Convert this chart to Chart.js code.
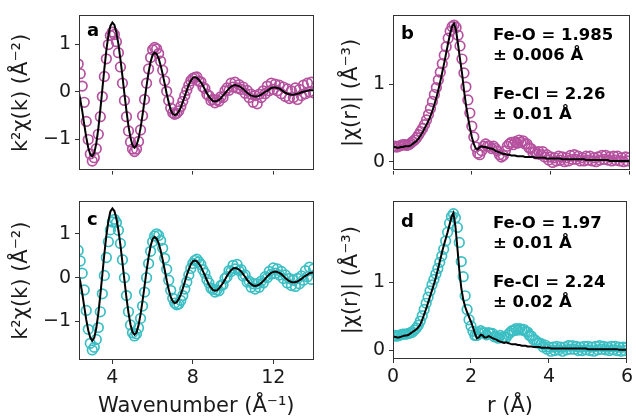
<!DOCTYPE html>
<html><head><meta charset="utf-8">
<script src="https://cdn.jsdelivr.net/npm/chart.js@4.4.1/dist/chart.umd.min.js"></script>
<style>
html,body{margin:0;padding:0;background:#fff;width:636px;height:417px;overflow:hidden}
canvas{position:absolute}
</style></head><body>
<canvas id="ca" width="320" height="186" style="left:0;top:0"></canvas>
<canvas id="cb" width="316" height="186" style="left:320px;top:0"></canvas>
<canvas id="cc" width="320" height="231" style="left:0;top:186px"></canvas>
<canvas id="cd" width="316" height="231" style="left:320px;top:186px"></canvas>
<script>
// ---------- data ----------
const kGrid = [2.3,2.4,2.5,2.6,2.7,2.8,2.9,3.0,3.1,3.2,3.3,3.4,3.5,3.6,3.7,3.8,3.9,4.0,4.1,4.2,4.3,4.4,4.5,4.6,4.7,4.8,4.9,5.0,5.1,5.2,5.3,5.4,5.5,5.6,5.7,5.8,5.9,6.0,6.1,6.2,6.3,6.4,6.5,6.6,6.7,6.8,6.9,7.0,7.1,7.2,7.3,7.4,7.5,7.6,7.7,7.8,7.9,8.0,8.1,8.2,8.3,8.4,8.5,8.6,8.7,8.8,8.9,9.0,9.1,9.2,9.3,9.4,9.5,9.6,9.7,9.8,9.9,10.0,10.1,10.2,10.3,10.4,10.5,10.6,10.7,10.8,10.9,11.0,11.1,11.2,11.3,11.4,11.5,11.6,11.7,11.8,11.9,12.0,12.1,12.2,12.3,12.4,12.5,12.6,12.7,12.8,12.9,13.0,13.1,13.2,13.3,13.4,13.5,13.6,13.7,13.8,13.9,14.0];

const aData = [0.58,0.38,0.12,-0.22,-0.62,-1.00,-1.30,-1.45,-1.38,-1.19,-0.89,-0.52,-0.10,0.32,0.69,0.99,1.18,1.25,1.20,1.05,0.82,0.52,0.18,-0.18,-0.52,-0.82,-1.05,-1.20,-1.25,-1.20,-1.04,-0.80,-0.50,-0.16,0.18,0.48,0.72,0.88,0.93,0.90,0.80,0.64,0.45,0.23,0.01,-0.18,-0.34,-0.44,-0.47,-0.45,-0.40,-0.31,-0.20,-0.08,0.03,0.14,0.23,0.28,0.30,
0.31,0.22,0.21,0.10,0.07,-0.05,-0.08,-0.18,-0.16,-0.23,-0.17,-0.20,-0.10,-0.12,0.02,0.08,0.03,0.18,0.10,0.20,0.08,0.15,0.05,0.10,-0.03,0.03,-0.12,-0.05,-0.22,-0.08,-0.25,-0.05,-0.12,0.02,-0.04,0.12,0.02,0.18,0.05,0.16,0.02,0.14,-0.04,0.10,-0.10,0.06,-0.14,0.02,-0.12,0.08,-0.16,0.05,-0.08,0.14,-0.04,0.18,0.00,0.20,-0.02];

const aFit = [0.05,-0.15,-0.40,-0.68,-0.95,-1.17,-1.31,-1.35,-1.28,-1.08,-0.77,-0.38,0.05,0.48,0.87,1.18,1.38,1.45,1.40,1.24,1.00,0.68,0.33,-0.05,-0.40,-0.72,-0.96,-1.12,-1.17,-1.12,-0.98,-0.76,-0.48,-0.18,0.13,0.41,0.63,0.77,0.82,0.79,0.70,0.55,0.37,0.17,-0.04,-0.22,-0.38,-0.46,-0.49,-0.47,-0.41,-0.33,-0.21,-0.09,0.03,0.15,0.23,0.29,0.31,
0.29,0.25,0.20,0.13,0.05,-0.03,-0.10,-0.15,-0.19,-0.20,-0.19,-0.17,-0.13,-0.08,-0.03,0.02,0.07,0.11,0.13,0.14,0.13,0.12,0.09,0.06,0.02,-0.02,-0.05,-0.08,-0.09,-0.10,-0.10,-0.08,-0.06,-0.03,0.00,0.02,0.05,0.08,0.09,0.09,0.08,0.07,0.04,0.01,-0.02,-0.04,-0.05,-0.06,-0.06,-0.05,-0.04,-0.03,-0.01,0.00,0.01,0.02,0.03,0.03,0.03];

const cData = [0.62,0.38,0.10,-0.28,-0.75,-1.18,-1.50,-1.65,-1.59,-1.41,-1.14,-0.78,-0.37,0.05,0.46,0.82,1.09,1.27,1.33,1.26,1.08,0.78,0.41,0.00,-0.41,-0.78,-1.08,-1.26,-1.33,-1.28,-1.15,-0.93,-0.65,-0.33,0.00,0.32,0.60,0.82,0.95,1.00,0.96,0.85,0.67,0.44,0.19,-0.06,-0.29,-0.47,-0.58,-0.62,-0.60,-0.52,-0.41,-0.26,-0.10,0.06,0.21,0.32,0.39,0.42,
0.36,0.30,0.18,0.10,-0.04,-0.12,-0.24,-0.27,-0.33,-0.28,-0.30,-0.18,-0.16,-0.02,0.02,0.16,0.14,0.28,0.20,0.30,0.16,0.18,0.04,0.06,-0.10,-0.08,-0.22,-0.14,-0.26,-0.14,-0.22,-0.08,-0.12,0.02,0.00,0.14,0.08,0.22,0.10,0.20,0.06,0.14,-0.02,0.06,-0.12,-0.02,-0.18,-0.06,-0.20,-0.02,-0.14,0.04,-0.06,0.16,0.02,0.24,-0.04,0.20];

const cFit = [0.10,-0.08,-0.35,-0.66,-0.96,-1.20,-1.37,-1.44,-1.37,-1.15,-0.82,-0.40,0.07,0.54,0.96,1.29,1.51,1.58,1.52,1.35,1.08,0.74,0.34,-0.06,-0.46,-0.80,-1.07,-1.24,-1.30,-1.25,-1.09,-0.84,-0.53,-0.19,0.16,0.47,0.72,0.88,0.93,0.89,0.79,0.62,0.41,0.18,-0.06,-0.27,-0.44,-0.54,-0.58,-0.56,-0.49,-0.38,-0.25,-0.10,0.06,0.19,0.30,0.37,0.39,
0.37,0.32,0.25,0.15,0.05,-0.06,-0.16,-0.23,-0.28,-0.30,-0.29,-0.25,-0.19,-0.12,-0.04,0.04,0.11,0.17,0.21,0.22,0.21,0.18,0.14,0.08,0.02,-0.05,-0.11,-0.15,-0.18,-0.19,-0.18,-0.16,-0.12,-0.08,-0.03,0.03,0.07,0.11,0.13,0.14,0.13,0.11,0.08,0.04,-0.01,-0.05,-0.08,-0.10,-0.11,-0.10,-0.09,-0.06,-0.03,0.01,0.04,0.07,0.10,0.11,0.12];

const rGrid = [0.00,0.05,0.10,0.15,0.20,0.25,0.30,0.35,0.40,0.45,0.50,0.55,0.60,0.65,0.70,0.75,0.80,0.85,0.90,0.95,1.00,1.05,1.10,1.15,1.20,1.25,1.30,1.35,1.40,1.45,1.50,1.55,1.60,1.65,1.70,1.75,1.80,1.85,1.90,1.95,2.00,2.05,2.10,2.15,2.20,2.25,2.30,2.35,2.40,2.45,2.50,2.55,2.60,2.65,2.70,2.75,2.80,2.85,2.90,2.95,3.00,3.05,3.10,3.15,3.20,3.25,3.30,3.35,3.40,3.45,3.50,3.55,3.60,3.65,3.70,3.75,3.80,3.85,3.90,3.95,4.00,4.05,4.10,4.15,4.20,4.25,4.30,4.35,4.40,4.45,4.50,4.55,4.60,4.65,4.70,4.75,4.80,4.85,4.90,4.95,5.00,5.05,5.10,5.15,5.20,5.25,5.30,5.35,5.40,5.45,5.50,5.55,5.60,5.65,5.70,5.75,5.80,5.85,5.90,5.95,6.00];

const bData = [0.19,0.20,0.19,0.20,0.21,0.22,0.22,0.21,0.22,0.24,
0.26,0.28,0.31,0.35,0.39,0.43,0.48,0.54,0.61,0.69,
0.78,0.87,0.96,1.06,1.16,1.27,1.38,1.49,1.60,1.69,
1.75,1.77,1.74,1.64,1.50,1.33,1.15,0.97,0.80,0.63,
0.46,0.32,0.19,0.11,0.09,0.14,0.20,0.23,0.20,0.20,
0.17,0.20,0.17,0.14,0.09,0.06,0.08,0.14,0.20,0.23,
0.25,0.22,0.26,0.24,0.28,0.25,0.27,0.23,0.23,0.18,
0.17,0.12,0.13,0.10,0.13,0.09,0.13,0.06,0.09,0.02,
0.06,-0.01,0.05,0.01,0.07,0.02,0.06,0.00,0.05,0.01,
0.08,0.03,0.09,0.03,0.07,0.01,0.05,0.01,0.07,0.02,
0.07,0.01,0.05,0.00,0.06,0.02,0.08,0.03,0.08,0.02,
0.06,0.01,0.07,0.02,0.07,0.01,0.05,0.00,0.06,0.01,0.05];

const bFit = [0.19,0.19,0.18,0.18,0.19,0.19,0.20,0.20,0.20,0.21,
0.23,0.25,0.27,0.30,0.34,0.38,0.43,0.48,0.53,0.59,
0.66,0.74,0.83,0.93,1.04,1.16,1.28,1.41,1.54,1.66,
1.75,1.79,1.70,1.52,1.33,1.15,0.93,0.74,0.58,0.44,
0.32,0.23,0.17,0.16,0.19,0.20,0.19,0.19,0.18,0.17,
0.17,0.16,0.14,0.13,0.12,0.11,0.10,0.10,0.09,0.09,
0.08,0.08,0.08,0.07,0.07,0.07,0.07,0.06,0.06,0.06,
0.06,0.06,0.05,0.05,0.05,0.05,0.05,0.05,0.04,0.04,
0.04,0.04,0.04,0.04,0.04,0.04,0.03,0.03,0.03,0.03,
0.03,0.03,0.03,0.03,0.03,0.03,0.03,0.03,0.02,0.02,
0.02,0.02,0.02,0.02,0.02,0.02,0.02,0.02,0.02,0.02,
0.01,0.01,0.01,0.01,0.01,0.01,0.01,0.01,0.01,0.01,0.01];

const dData = [0.21,0.22,0.21,0.22,0.23,0.24,0.24,0.24,0.25,0.26,
0.27,0.30,0.33,0.37,0.43,0.51,0.60,0.69,0.78,0.87,
0.96,1.04,1.12,1.20,1.29,1.38,1.48,1.60,1.73,1.86,
1.96,2.00,1.94,1.80,1.58,1.30,1.08,0.80,0.60,0.45,
0.36,0.28,0.22,0.22,0.26,0.29,0.26,0.26,0.23,0.26,
0.25,0.25,0.20,0.20,0.18,0.22,0.19,0.20,0.19,0.23,
0.26,0.29,0.29,0.32,0.30,0.32,0.30,0.31,0.28,0.27,
0.22,0.21,0.16,0.15,0.11,0.11,0.10,0.05,0.08,0.02,
0.05,-0.01,0.05,0.00,0.06,0.01,0.05,-0.01,0.05,0.01,
0.07,0.02,0.07,0.02,0.06,0.00,0.05,0.00,0.06,0.01,
0.06,0.00,0.05,-0.01,0.06,0.01,0.07,0.02,0.06,0.01,
0.05,0.00,0.06,0.01,0.06,0.00,0.05,-0.01,0.05,0.00,0.05];

const dFit = [0.20,0.20,0.19,0.19,0.20,0.21,0.22,0.22,0.23,0.25,
0.27,0.29,0.31,0.34,0.38,0.45,0.53,0.61,0.70,0.79,
0.88,0.97,1.07,1.18,1.30,1.42,1.53,1.63,1.73,1.84,
1.95,2.01,1.82,1.51,1.18,0.92,0.75,0.64,0.56,0.49,
0.42,0.34,0.25,0.18,0.19,0.23,0.22,0.19,0.19,0.21,
0.20,0.18,0.17,0.16,0.14,0.13,0.12,0.11,0.12,0.11,
0.10,0.09,0.09,0.09,0.08,0.08,0.07,0.07,0.07,0.06,
0.06,0.06,0.05,0.05,0.05,0.05,0.04,0.04,0.04,0.04,
0.04,0.03,0.03,0.03,0.03,0.03,0.03,0.03,0.03,0.03,
0.03,0.03,0.03,0.03,0.03,0.03,0.03,0.03,0.03,0.03,
0.02,0.02,0.02,0.02,0.02,0.02,0.02,0.02,0.02,0.02,
0.02,0.02,0.02,0.02,0.02,0.02,0.01,0.01,0.01,0.01,0.01];

const kTicks = [4, 8, 12];
const kYTicks = [-1, 0, 1];
const rTicks = [0, 2, 4, 6];
const rYTicks = [0, 1];

const kLabel = 'Wavenumber (Å\u207B\u00B9)';
const rLabel = 'r (Å)';
const kYLabel = 'k\u00B2\u03C7(k) (Å\u207B\u00B2)';
const rYLabel = '|\u03C7(r)| (Å\u207B\u00B3)';

const notesB = ['Fe-O = 1.985', '± 0.006 Å', 'Fe-Cl = 2.26', '± 0.01 Å'];
const notesD = ['Fe-O = 1.97', '± 0.01 Å', 'Fe-Cl = 2.24', '± 0.02 Å'];

const MAGENTA = '#b5519f';
const TEAL = '#3bbfc4';

// ---------- drawing ----------
const FONT = "'DejaVu Sans'";
const INK = '#1a1a1a';
function pts(xs, ys) { return xs.map((x, i) => ({ x: x, y: ys[i] })); }
function fmt(v) { return v < 0 ? '\u2212' + Math.abs(v) : String(v); }

const framePlugin = {
  id: 'frame',
  afterDraw(chart, args, opts) {
    const ctx = chart.ctx, a = chart.chartArea;
    ctx.save();
    ctx.strokeStyle = '#333';
    ctx.lineWidth = 1;
    ctx.strokeRect(Math.round(a.left) + 0.5, Math.round(a.top) + 0.5,
                   Math.round(a.right - a.left) - 1, Math.round(a.bottom - a.top) - 1);
    ctx.fillStyle = '#000';
    ctx.textAlign = 'left';
    ctx.textBaseline = 'alphabetic';
    (opts.notes || []).forEach(n => {
      ctx.font = 'bold ' + n.size + 'px ' + FONT;
      ctx.fillText(n.text, a.left + n.dx, a.top + n.dy);
    });
    ctx.restore();
  }
};

function build(id, o) {
  return new Chart(document.getElementById(id), {
    type: 'scatter',
    data: { datasets: [
      { data: pts(o.xs, o.fit), showLine: true, borderColor: '#000', borderWidth: 2,
        pointRadius: 0, pointHoverRadius: 0, fill: false, tension: 0, order: 0, clip: 0 },
      { data: pts(o.xs, o.obs), showLine: false, pointStyle: 'circle', pointRadius: 4.8,
        pointHoverRadius: 4.8, borderWidth: 1.7, pointBorderWidth: 1.7, borderColor: o.color,
        pointBorderColor: o.color, backgroundColor: 'rgba(0,0,0,0)', pointBackgroundColor: 'rgba(0,0,0,0)',
        order: 1, clip: 0 }
    ]},
    options: {
      responsive: false, animation: false, devicePixelRatio: 1,
      events: [],
      layout: { padding: { top: o.padTop, right: o.padRight, left: 0, bottom: 0 } },
      plugins: { legend: { display: false }, tooltip: { enabled: false }, frame: { notes: o.notes } },
      scales: {
        x: {
          type: 'linear', min: o.xmin, max: o.xmax,
          afterBuildTicks: s => { s.ticks = o.xticks.map(v => ({ value: v })); },
          afterFit: s => { s.height = o.xH; },
          grid: { drawOnChartArea: false, drawTicks: true, tickLength: 4, tickWidth: 1, tickColor: '#333' },
          border: { display: false },
          ticks: { display: o.showX, font: { family: FONT, size: 19 }, color: INK, padding: 3, maxRotation: 0,
                   callback: v => fmt(v) },
          title: { display: !!o.xTitle, text: o.xTitle || '', font: { family: FONT, size: 21, lineHeight: 1 },
                   color: INK, padding: { top: 0, bottom: 0 } }
        },
        y: {
          type: 'linear', min: o.ymin, max: o.ymax,
          afterBuildTicks: s => { s.ticks = o.yticks.map(v => ({ value: v })); },
          afterFit: s => { s.width = o.yW; },
          grid: { drawOnChartArea: false, drawTicks: true, tickLength: 4, tickWidth: 1, tickColor: '#333' },
          border: { display: false },
          ticks: { font: { family: FONT, size: 19 }, color: INK, padding: 4, callback: v => fmt(v) },
          title: { display: true, text: o.yTitle, font: { family: FONT, size: 21, lineHeight: 1 },
                   color: INK, padding: { top: o.yTitlePad, bottom: 0 } }
        }
      }
    },
    plugins: [framePlugin]
  });
}

function notesFor(letter, lines, dy0) {
  const n = [{ text: letter, dx: 8, dy: dy0, size: 18 }];
  if (lines) {
    const offs = [dy0 + 1, dy0 + 21, dy0 + 60, dy0 + 80];
    lines.forEach((t, i) => n.push({ text: t, dx: 100, dy: offs[i], size: 16.5 }));
  }
  return n;
}

build('ca', { xs: kGrid, obs: aData, fit: aFit, color: MAGENTA, xmin: 2.34, xmax: 14, ymin: -1.65, ymax: 1.6,
  xticks: kTicks, yticks: kYTicks, showX: false, xTitle: '', yTitle: kYLabel,
  padTop: 15, padRight: 4, yW: 79, xH: 10, yTitlePad: 11.5, notes: notesFor('a', null, 21) });
build('cb', { xs: rGrid, obs: bData, fit: bFit, color: MAGENTA, xmin: 0, xmax: 6, ymin: -0.116, ymax: 1.896,
  xticks: rTicks, yticks: rYTicks, showX: false, xTitle: '', yTitle: rYLabel,
  padTop: 15, padRight: 5, yW: 73, xH: 10, yTitlePad: 21.5, notes: notesFor('b', notesB, 24) });
build('cc', { xs: kGrid, obs: cData, fit: cFit, color: TEAL, xmin: 2.34, xmax: 14, ymin: -1.88, ymax: 1.74,
  xticks: kTicks, yticks: kYTicks, showX: true, xTitle: kLabel, yTitle: kYLabel,
  padTop: 12, padRight: 4, yW: 79, xH: 57, yTitlePad: 11.5, notes: notesFor('c', null, 24) });
build('cd', { xs: rGrid, obs: dData, fit: dFit, color: TEAL, xmin: 0, xmax: 6, ymin: -0.124, ymax: 2.18,
  xticks: rTicks, yticks: rYTicks, showX: true, xTitle: rLabel, yTitle: rYLabel,
  padTop: 11, padRight: 5, yW: 73, xH: 58, yTitlePad: 21.5, notes: notesFor('d', notesD, 26) });
</script>
</body></html>
